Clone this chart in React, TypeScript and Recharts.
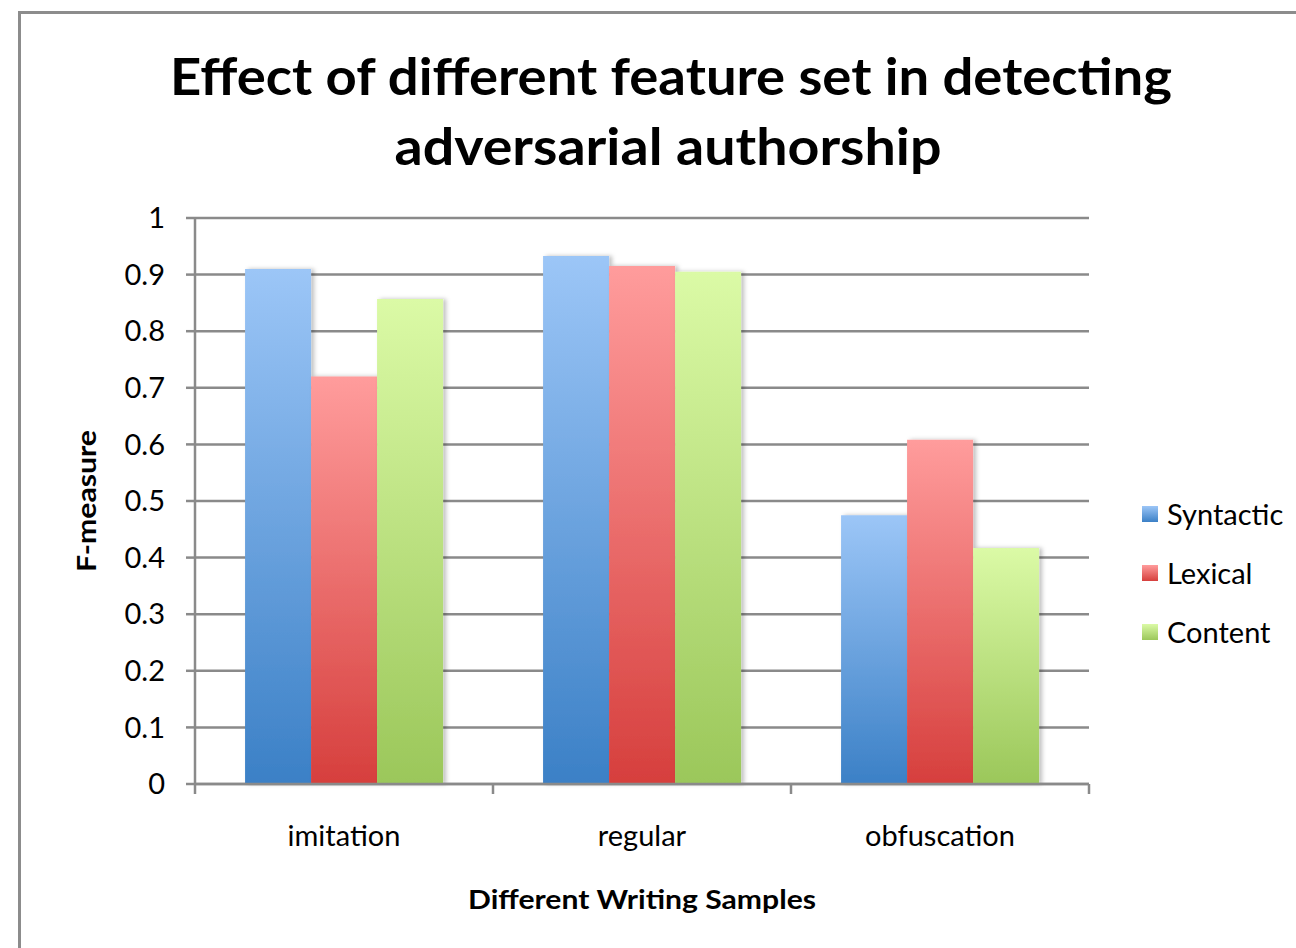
import React from 'react';
import { BarChart, Bar, XAxis, YAxis, CartesianGrid, Legend } from 'recharts';

const categories = ['imitation', 'regular', 'obfuscation'];
const seriesNames = ['Syntactic', 'Lexical', 'Content'];
const syntactic = [0.91, 0.933, 0.475];
const lexical = [0.72, 0.915, 0.608];
const content = [0.857, 0.905, 0.417];
const yTicks = [0, 0.1, 0.2, 0.3, 0.4, 0.5, 0.6, 0.7, 0.8, 0.9, 1];

const gradTop = ['#9cc6f7', '#ff9c9c', '#dbfaa6'];
const gradBottom = ['#3b80c6', '#d63f3d', '#9bc75a'];
const gradIds = ['gSyn', 'gLex', 'gCon'];

const data = categories.map((c, i) => ({
  name: c,
  Syntactic: syntactic[i],
  Lexical: lexical[i],
  Content: content[i],
}));

const FONT = 'Lato, "Open Sans", sans-serif';
const AXIS = '#8a8a8a';

const XTick = (props: any) => {
  const { x, y, payload, index, visibleTicksCount, width } = props;
  const half =
    payload && typeof payload.offset === 'number' && payload.offset > 0
      ? payload.offset
      : width / visibleTicksCount / 2;
  return (
    <g>
      <line x1={x - half} x2={x - half} y1={y} y2={y + 10} stroke={AXIS} strokeWidth={2.5} />
      {index === visibleTicksCount - 1 && (
        <line x1={x + half} x2={x + half} y1={y} y2={y + 10} stroke={AXIS} strokeWidth={2.5} />
      )}
      <text x={x} y={y + 62} textAnchor="middle" fontSize={29} fontFamily={FONT} fill="#000">
        {payload.value}
      </text>
    </g>
  );
};

const renderLegend = () => (
  <div style={{ fontFamily: FONT }}>
    {seriesNames.map((n, i) => (
      <div key={n} style={{ display: 'flex', alignItems: 'center', height: 59 }}>
        <div
          style={{
            width: 16,
            height: 16,
            marginRight: 9,
            background: `linear-gradient(${gradTop[i]}, ${gradBottom[i]})`,
          }}
        />
        <span style={{ fontSize: 29, color: '#000' }}>{n}</span>
      </div>
    ))}
  </div>
);

export default function App() {
  return (
    <div
      style={{
        position: 'absolute',
        left: 0,
        top: 0,
        width: 1296,
        height: 948,
        overflow: 'hidden',
        background: '#fff',
      }}
    >
      <div
        style={{
          position: 'absolute',
          left: 18,
          top: 11,
          width: 1400,
          height: 1100,
          border: '3px solid #8c8c8c',
        }}
      />
      <div style={{ position: 'absolute', left: 0, top: 0 }}>
        <BarChart
          width={1296}
          height={948}
          data={data}
          margin={{ top: 218, right: 47, bottom: 104, left: 125 }}
          barCategoryGap="16.8%"
          barGap={0}
        >
          <defs>
            {gradIds.map((id, i) => (
              <linearGradient key={id} id={id} x1="0" y1="0" x2="0" y2="1">
                <stop offset="0%" stopColor={gradTop[i]} />
                <stop offset="100%" stopColor={gradBottom[i]} />
              </linearGradient>
            ))}
            <filter id="shadow" x="-10%" y="-5%" width="130%" height="110%">
              <feDropShadow dx="3" dy="0" stdDeviation="2" floodColor="#000" floodOpacity="0.25" />
            </filter>
          </defs>
          <CartesianGrid vertical={false} stroke={AXIS} strokeWidth={2.5} />
          <XAxis
            dataKey="name"
            height={60}
            stroke={AXIS}
            strokeWidth={2.5}
            tickLine={false}
            tickSize={0}
            tickMargin={0}
            tick={<XTick />}
            interval={0}
          />
          <YAxis
            width={70}
            domain={[0, 1]}
            ticks={yTicks}
            interval={0}
            stroke={AXIS}
            strokeWidth={2.5}
            tickSize={9}
            tickMargin={21}
            tickFormatter={(v: number) => String(+v.toFixed(1))}
            tick={{ fill: '#000', fontSize: 29, fontFamily: FONT }}
          />
          <Legend
            layout="vertical"
            align="right"
            verticalAlign="middle"
            content={renderLegend}
            wrapperStyle={{ left: 1142, top: 484, width: 160 }}
          />
          {seriesNames.map((n, i) => (
            <Bar
              key={n}
              dataKey={n}
              fill={`url(#${gradIds[i]})`}
              filter="url(#shadow)"
              isAnimationActive={false}
            />
          ))}
        </BarChart>
      </div>
      <svg
        width={1296}
        height={948}
        style={{ position: 'absolute', left: 0, top: 0, pointerEvents: 'none' }}
      >
        <text
          x={671}
          y={95}
          textAnchor="middle"
          fontSize={52}
          fontWeight="bold"
          fontFamily={FONT}
          textLength={1002}
          lengthAdjust="spacingAndGlyphs"
        >
          Effect of different feature set in detecting
        </text>
        <text
          x={668}
          y={165}
          textAnchor="middle"
          fontSize={52}
          fontWeight="bold"
          fontFamily={FONT}
          textLength={547}
          lengthAdjust="spacingAndGlyphs"
        >
          adversarial authorship
        </text>
        <text
          x={86}
          y={501}
          textAnchor="middle"
          dominantBaseline="central"
          transform="rotate(-90 86 501)"
          fontSize={26}
          fontWeight="bold"
          fontFamily={FONT}
          textLength={142}
          lengthAdjust="spacingAndGlyphs"
        >
          F-measure
        </text>
        <text
          x={642}
          y={909}
          textAnchor="middle"
          fontSize={26}
          fontWeight="bold"
          fontFamily={FONT}
          textLength={348}
          lengthAdjust="spacingAndGlyphs"
        >
          Different Writing Samples
        </text>
      </svg>
    </div>
  );
}
